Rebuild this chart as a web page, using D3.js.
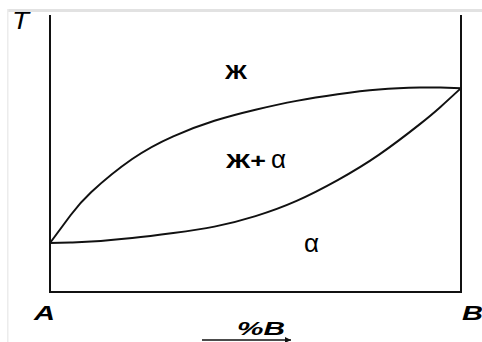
<!DOCTYPE html>
<html>
<head>
<meta charset="utf-8">
<script src="https://cdn.jsdelivr.net/npm/d3@7"></script>
<style>
  body { margin: 0; background: #fff; }
  svg { display: block; }
</style>
</head>
<body>
<svg width="482" height="342"></svg>
<script>
// composition, % B (0 = A, 100 = B)
var composition = [0, 5, 10, 20, 30, 40, 50, 60, 70, 80, 90, 95, 100];
// temperature, arbitrary units
var liquidus = [17.7, 27.7, 36.0, 48.0, 56.2, 61.8, 65.8, 69.0, 71.4, 73.1, 73.8, 73.8, 73.6];
var solidus  = [17.7, 17.9, 18.2, 19.5, 21.3, 23.6, 27.4, 32.9, 40.4, 49.5, 60.6, 66.8, 73.6];

var svg = d3.select("svg");

var x = d3.scaleLinear().domain([0, 100]).range([50, 461]);
var y = d3.scaleLinear().domain([0, 100]).range([292, 15]);

// faint frame of the scanned image
svg.append("rect").attr("x", 7).attr("y", 9).attr("width", 475).attr("height", 3).attr("fill", "#e2e2e2");
svg.append("rect").attr("x", 7).attr("y", 9).attr("width", 1.5).attr("height", 333).attr("fill", "#ececec");

// axes box (left, bottom, right)
svg.append("path")
    .attr("d", "M" + x(0) + "," + y(100) + "V" + y(0) + "H" + x(100) + "V" + y(100))
    .attr("fill", "none")
    .attr("stroke", "#111")
    .attr("stroke-width", 2);

var line = d3.line()
    .x(function(d, i) { return x(composition[i]); })
    .y(function(d) { return y(d); })
    .curve(d3.curveNatural);

svg.append("path").datum(liquidus)
    .attr("d", line)
    .attr("fill", "none")
    .attr("stroke", "#111")
    .attr("stroke-width", 2);

svg.append("path").datum(solidus)
    .attr("d", line)
    .attr("fill", "none")
    .attr("stroke", "#111")
    .attr("stroke-width", 2);

// labels
var sans = "'Liberation Sans', Arial, sans-serif";
var narrow = "'Liberation Sans Narrow', 'Liberation Sans', sans-serif";

svg.append("text").attr("x", 12).attr("y", 29)
    .attr("font-family", sans).attr("font-style", "italic").attr("font-size", 23)
    .attr("textLength", 17).attr("lengthAdjust", "spacingAndGlyphs")
    .text("T");

svg.append("text").attr("x", 34).attr("y", 320)
    .attr("font-family", sans).attr("font-style", "italic").attr("font-weight", "bold").attr("font-size", 21)
    .attr("textLength", 21).attr("lengthAdjust", "spacingAndGlyphs")
    .text("A");

svg.append("text").attr("x", 462).attr("y", 320)
    .attr("font-family", sans).attr("font-style", "italic").attr("font-weight", "bold").attr("font-size", 21)
    .attr("textLength", 21).attr("lengthAdjust", "spacingAndGlyphs")
    .text("B");

svg.append("text").attr("x", 237).attr("y", 335)
    .attr("font-family", sans).attr("font-style", "italic").attr("font-weight", "bold").attr("font-size", 19)
    .attr("textLength", 48).attr("lengthAdjust", "spacingAndGlyphs")
    .text("%B");

svg.append("defs").append("marker")
    .attr("id", "arr").attr("viewBox", "0 0 10 10")
    .attr("refX", 10).attr("refY", 5)
    .attr("markerWidth", 9).attr("markerHeight", 6)
    .attr("markerUnits", "userSpaceOnUse")
    .attr("orient", "auto")
    .append("path").attr("d", "M0,0L10,5L0,10Z").attr("fill", "#111");

svg.append("line").attr("x1", 202).attr("y1", 340).attr("x2", 291).attr("y2", 340)
    .attr("stroke", "#111").attr("stroke-width", 1.3)
    .attr("marker-end", "url(#arr)");

svg.append("text").attr("x", 225).attr("y", 79)
    .attr("font-family", sans).attr("font-weight", "bold").attr("font-size", 20)
    .attr("textLength", 22).attr("lengthAdjust", "spacingAndGlyphs")
    .text("Ж");

svg.append("text").attr("x", 226).attr("y", 168)
    .attr("font-family", sans).attr("font-weight", "bold").attr("font-size", 21)
    .attr("textLength", 40).attr("lengthAdjust", "spacingAndGlyphs")
    .text("Ж+");

svg.append("text").attr("x", 271).attr("y", 168)
    .attr("font-family", narrow).attr("font-size", 26)
    .text("α");

svg.append("text").attr("x", 304).attr("y", 252)
    .attr("font-family", narrow).attr("font-size", 26)
    .text("α");
</script>
</body>
</html>
